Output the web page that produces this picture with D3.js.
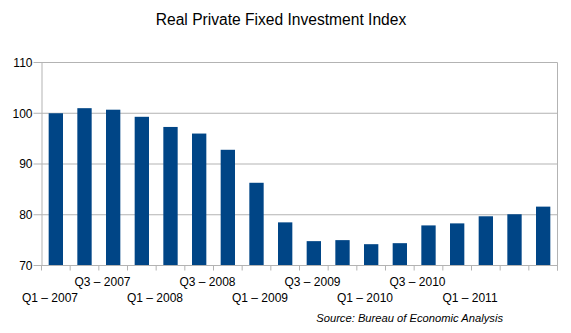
<!DOCTYPE html>
<html>
<head>
    <title>Real Private Fixed Investment Index</title>
    <script src="https://cdnjs.cloudflare.com/ajax/libs/d3/7.8.5/d3.min.js"></script>
    <style>
        body {
            margin: 0;
            background-color: white;
            font-family: "Liberation Sans", Arial, sans-serif;
        }
    </style>
</head>
<body>
    <div id="chart"></div>

    <script>
        // Quarterly index values, Q1 2007 through Q2 2011
        const quarters = [
            'Q1 2007', 'Q2 2007', 'Q3 2007', 'Q4 2007',
            'Q1 2008', 'Q2 2008', 'Q3 2008', 'Q4 2008',
            'Q1 2009', 'Q2 2009', 'Q3 2009', 'Q4 2009',
            'Q1 2010', 'Q2 2010', 'Q3 2010', 'Q4 2010',
            'Q1 2011', 'Q2 2011'
        ];
        const indexValues = [
            100.0, 101.0, 100.7, 99.3,
            97.3, 96.0, 92.8, 86.3,
            78.5, 74.8, 75.0, 74.2,
            74.4, 77.9, 78.3, 79.7,
            80.1, 81.6
        ];
        // Every other quarter gets a label, staggered over two rows
        const axisLabels = [
            'Q1 – 2007', 'Q3 – 2007', 'Q1 – 2008', 'Q3 – 2008', 'Q1 – 2009',
            'Q3 – 2009', 'Q1 – 2010', 'Q3 – 2010', 'Q1 – 2011'
        ];
        const yTicks = [70, 80, 90, 100, 110];

        const width = 571, height = 333;
        const margin = {top: 62.5, right: 13.5, bottom: 67.5, left: 41.5};
        const innerW = width - margin.left - margin.right;
        const innerH = height - margin.top - margin.bottom;

        const svg = d3.select('#chart')
            .append('svg')
                .attr('width', width)
                .attr('height', height)
                .style('font-family', '"Liberation Sans", Arial, sans-serif');

        // Title
        svg.append('text')
            .attr('x', 281)
            .attr('y', 25)
            .attr('text-anchor', 'middle')
            .style('font-size', '15.6px')
            .style('fill', '#000')
            .text('Real Private Fixed Investment Index');

        const g = svg.append('g')
            .attr('transform', `translate(${margin.left},${margin.top})`);

        const x = d3.scaleBand()
            .domain(quarters)
            .range([0, innerW])
            .paddingInner(0.5)
            .paddingOuter(0.25);

        const y = d3.scaleLinear()
            .domain([70, 110])
            .range([innerH, 0]);

        // Horizontal grid lines
        g.append('g')
            .selectAll('line')
            .data(yTicks)
            .join('line')
                .attr('x1', -8)
                .attr('x2', innerW)
                .attr('y1', d => y(d))
                .attr('y2', d => y(d))
                .attr('stroke', '#b3b3b3')
                .attr('stroke-width', 1);

        // Right border
        g.append('line')
            .attr('x1', innerW).attr('x2', innerW)
            .attr('y1', 0).attr('y2', innerH + 5)
            .attr('stroke', '#b3b3b3');

        // Y axis
        const yAxis = g.append('g')
            .call(d3.axisLeft(y).tickValues(yTicks).tickSize(0).tickPadding(9));
        yAxis.select('.domain').attr('stroke', '#b3b3b3');
        yAxis.selectAll('text')
            .style('font-size', '12px')
            .style('fill', '#000')
            .attr('font-family', null);

        // Bars
        g.append('g')
            .selectAll('rect')
            .data(indexValues)
            .join('rect')
                .attr('x', (d, i) => x(quarters[i]))
                .attr('y', d => y(d))
                .attr('width', x.bandwidth())
                .attr('height', d => innerH - y(d))
                .attr('fill', '#004586');

        // X axis with ticks at category boundaries
        const step = x.step();
        const boundaries = d3.range(quarters.length + 1).map(i => i * step);
        g.append('line')
            .attr('x1', 0).attr('x2', innerW)
            .attr('y1', innerH).attr('y2', innerH)
            .attr('stroke', '#b3b3b3');
        g.append('g')
            .selectAll('line')
            .data(boundaries)
            .join('line')
                .attr('x1', d => d).attr('x2', d => d)
                .attr('y1', innerH).attr('y2', innerH + 5)
                .attr('stroke', '#b3b3b3');

        // Category labels, packed and staggered
        const lx = d3.scalePoint()
            .domain(axisLabels)
            .range([50 - margin.left, 470 - margin.left]);
        g.append('g')
            .selectAll('text')
            .data(axisLabels)
            .join('text')
                .attr('x', d => lx(d))
                .attr('y', (d, i) => innerH + (i % 2 === 0 ? 36.5 : 20.5))
                .attr('text-anchor', 'middle')
                .style('font-size', '12px')
                .style('fill', '#000')
                .text(d => d);

        // Source note
        svg.append('text')
            .attr('x', 503)
            .attr('y', 322)
            .attr('text-anchor', 'end')
            .style('font-size', '11.2px')
            .style('font-style', 'italic')
            .style('fill', '#000')
            .text('Source: Bureau of Economic Analysis');
    </script>
</body>
</html>
